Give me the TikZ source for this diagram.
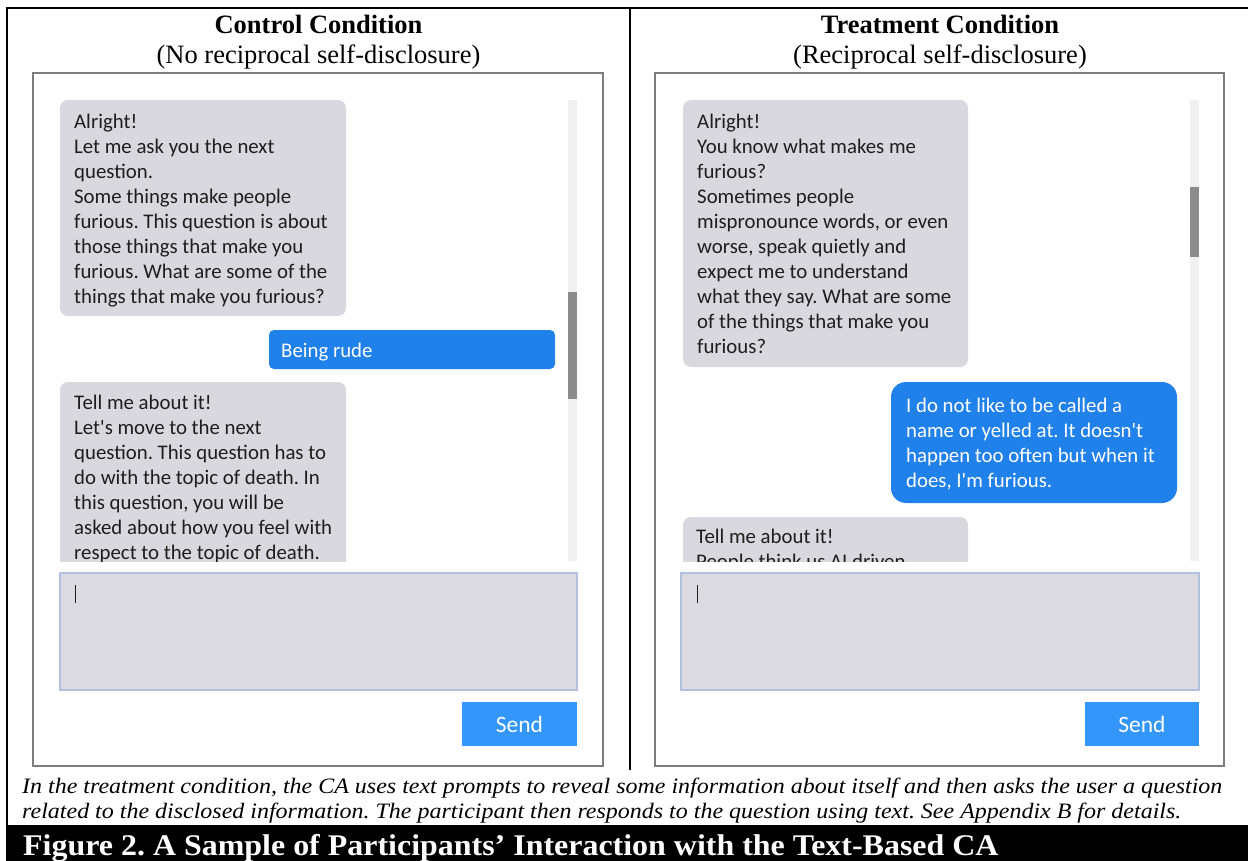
\documentclass[tikz,border=0pt]{standalone}
\usepackage{fontspec}
\setmainfont{Liberation Serif}
\newfontfamily\chatfont{Carlito}
\newfontfamily\capfont{Liberation Serif}[FakeStretch=1.09, Ligatures=TeX]
\newfontfamily\barfont{Liberation Serif}[FakeStretch=1.065, Ligatures=TeX]
\definecolor{bubgray}{HTML}{D9D8DE}
\definecolor{inputfill}{HTML}{DBDAE0}
\definecolor{inputedge}{HTML}{B3C1DF}
\definecolor{userblue}{HTML}{2181EA}
\definecolor{sendblue}{HTML}{3396FA}
\definecolor{track}{HTML}{F0F0F0}
\definecolor{thumbgray}{HTML}{8C8C8C}
\definecolor{paneledge}{HTML}{7D7D7D}
\definecolor{chatink}{HTML}{1E1E1E}
\tikzset{
  box/.style={anchor=north west, inner sep=0pt, outer sep=0pt},
  panelbox/.style={box, draw=paneledge, line width=2pt, fill=white},
  graybub/.style={box, fill=bubgray, rounded corners=8pt},
  bluebub/.style={box, fill=userblue, rounded corners=#1},
  chattext/.style={anchor=north west, inner sep=0pt, align=left, text=chatink,
    font=\chatfont\fontsize{20.8}{25}\selectfont},
  usertext/.style={chattext, text=white},
  inputbox/.style={box, fill=inputfill, draw=inputedge, line width=1.5pt},
  sendbtn/.style={box, fill=sendblue, text=white, font=\chatfont\fontsize{23.5}{28}\selectfont},
  tracknode/.style={box, fill=track},
  thumbnode/.style={box, fill=thumbgray},
  titletext/.style={anchor=base, inner sep=0pt, font=\bfseries\fontsize{26.5}{30}\selectfont},
  subtitletext/.style={anchor=base, inner sep=0pt, font=\fontsize{26.5}{30}\selectfont},
  frameline/.style={line width=2.5pt, black},
}
\newcommand{\firstline}{\rule{0pt}{20pt}}
\frenchspacing
\begin{document}
\begin{tikzpicture}[x=1pt,y=-1pt]
\useasboundingbox (0,0) rectangle (1248,861);
\fill[white] (0,0) rectangle (1248,861);

% outer frame
\draw[frameline] (5.75,8) -- (1248,8);
\draw[frameline] (7,8) -- (7,826);
\draw[frameline] (630,8) -- (630,770);

% titles
\node[titletext] (ltitle) at (318.5,34) {Control Condition};
\node[subtitletext] (lsub) at (318.5,64) {(No reciprocal self-disclosure)};
\node[titletext] (rtitle) at (940,34) {Treatment Condition};
\node[subtitletext] (rsub) at (940,64) {(Reciprocal self-disclosure)};

% panels
\node[panelbox, minimum width=570pt, minimum height=693pt] (lpanel) at (33,73) {};
\node[panelbox, minimum width=569pt, minimum height=693pt] (rpanel) at (655,73) {};

% scrollbars
\node[tracknode, minimum width=9pt, minimum height=461pt] (ltrack) at (568,100) {};
\node[thumbnode, minimum width=9pt, minimum height=107pt] (lthumb) at (568,292) {};
\node[tracknode, minimum width=9pt, minimum height=461pt] (rtrack) at (1190,100) {};
\node[thumbnode, minimum width=9pt, minimum height=70pt] (rthumb) at (1190,187) {};

% ---- left chat ----
\begin{scope}
\clip (35,90) rectangle (567,561);
\node[graybub, minimum width=286pt, minimum height=216pt] (lbub1) at (60,100) {};
\node[chattext] (ltxt1) at (74,108) {\firstline Alright!\\Let me ask you the next\\question.\\Some things make people\\furious. This question is about\\those things that make you\\furious. What are some of the\\things that make you furious?};
\node[bluebub=5pt, minimum width=286pt, minimum height=39pt] (lbub2) at (269,330) {};
\node[usertext] (ltxt2) at (281,337) {\firstline Being rude};
\node[graybub, minimum width=286pt, minimum height=220pt] (lbub3) at (60,382) {};
\node[chattext] (ltxt3) at (74,389) {\firstline Tell me about it!\\Let's move to the next\\question. This question has to\\do with the topic of death. In\\this question, you will be\\asked about how you feel with\\respect to the topic of death.};
\end{scope}

% ---- right chat ----
\begin{scope}
\clip (657,90) rectangle (1189,561);
\node[graybub, minimum width=285pt, minimum height=267pt] (rbub1) at (683,100) {};
\node[chattext] (rtxt1) at (697,108) {\firstline Alright!\\You know what makes me\\furious?\\Sometimes people\\mispronounce words, or even\\worse, speak quietly and\\expect me to understand\\what they say. What are some\\of the things that make you\\furious?};
\node[bluebub=15pt, minimum width=286pt, minimum height=121pt] (rbub2) at (891,382) {};
\node[usertext] (rtxt2) at (906,392) {\firstline I do not like to be called a\\name or yelled at. It doesn't\\happen too often but when it\\does, I'm furious.};
\node[graybub, minimum width=285pt, minimum height=120pt] (rbub3) at (683,517) {};
\node[chattext] (rtxt3) at (696,523) {\firstline Tell me about it!\\People think us AI driven};
\end{scope}

% input areas
\node[inputbox, minimum width=517pt, minimum height=117pt] (linput) at (60,573) {};
\node[inputbox, minimum width=518pt, minimum height=117pt] (rinput) at (681,573) {};
\draw[chatink, line width=1pt] (75.5,585) -- (75.5,603);
\draw[chatink, line width=1pt] (697.5,585) -- (697.5,603);

% send buttons
\node[sendbtn, minimum width=115pt, minimum height=44pt] (lsend) at (462,702) {Send};
\node[sendbtn, minimum width=114pt, minimum height=44pt] (rsend) at (1085,702) {Send};

% caption
\node[anchor=north west, inner sep=0pt, align=left, font=\capfont\itshape\fontsize{22}{25}\selectfont] (caption) at (22,773)
 {\firstline In the treatment condition, the CA uses text prompts to reveal some information about itself and then asks the user a question\\related to the disclosed information. The participant then responds to the question using text. See Appendix B for details.};

% figure bar
\node[box, fill=black, minimum width=1242.5pt, minimum height=36pt] (bar) at (5.75,825) {};
\node[anchor=base west, inner sep=0pt, text=white, font=\barfont\bfseries\fontsize{30}{34}\selectfont] (bartext) at (23,855)
 {Figure 2. A Sample of Participants' Interaction with the Text-Based CA};
\end{tikzpicture}
\end{document}
